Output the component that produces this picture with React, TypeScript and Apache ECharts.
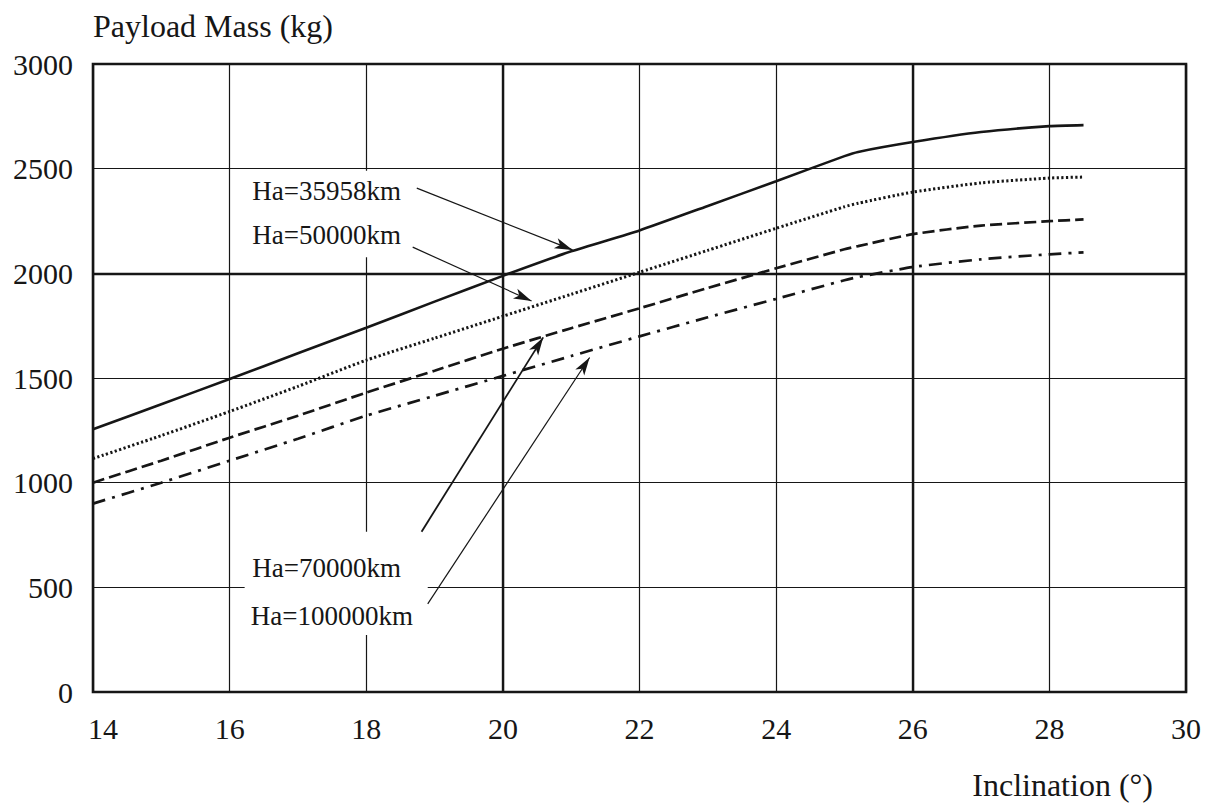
import React, { useEffect, useRef } from "react";
import * as echarts from "echarts";

// Inclination (deg)
const inclination = [14, 15, 16, 17, 18, 19, 20, 21, 22, 23, 24, 25, 25.2, 26, 27, 28, 28.5];
// Payload mass (kg) for each apogee altitude
const ha35958 = [1255, 1375, 1495, 1618, 1740, 1865, 1988, 2105, 2205, 2322, 2440, 2560, 2580, 2627, 2675, 2703, 2708];
const ha50000 = [1115, 1225, 1340, 1460, 1585, 1690, 1795, 1900, 2005, 2110, 2215, 2318, 2335, 2388, 2432, 2455, 2460];
const ha70000 = [1000, 1105, 1215, 1320, 1430, 1535, 1640, 1738, 1833, 1930, 2024, 2115, 2130, 2187, 2228, 2249, 2258];
const ha100000 = [900, 1000, 1105, 1210, 1320, 1415, 1510, 1605, 1699, 1790, 1878, 1967, 1982, 2030, 2067, 2091, 2100];

const seriesNames = ["Ha=35958km", "Ha=50000km", "Ha=70000km", "Ha=100000km"];
const xTicks = [14, 16, 18, 20, 22, 24, 26, 28, 30];
const yTicks = [0, 500, 1000, 1500, 2000, 2500, 3000];

// Annotation label anchors (data coords) and arrows
const labelPos = [
  [16.33, 2395],
  [16.33, 2182],
  [16.33, 590],
  [16.31, 364],
];
const arrowStart = [
  [18.74, 2407],
  [18.68, 2125],
  [18.81, 766],
  [18.9, 421],
];
const arrowEnd = [
  [21.02, 2112],
  [20.42, 1868],
  [20.59, 1694],
  [21.27, 1598],
];
const boxes = [
  [[16.15, 2490], [18.64, 2077]],
  [[16.22, 765], [18.9, 272]],
];

const FONT = "'Liberation Serif', 'Times New Roman', serif";
const INK = "#161616";

export default function App() {
  const ref = useRef<HTMLDivElement>(null);
  useEffect(() => {
    if (!ref.current) return;
    const chart = echarts.init(ref.current, undefined, { renderer: "svg" });
    const mk = (vals: number[]) => inclination.map((x, i) => [x, vals[i]]);
    const lineStyles: any[] = [
      { width: 2.6, type: "solid" },
      { width: 3, type: [2.2, 2.4] },
      { width: 2.7, type: [12, 5] },
      { width: 2.7, type: [13, 7, 3, 7] },
    ];
    const allVals = [ha35958, ha50000, ha70000, ha100000];
    const lineSeries = allVals.map((v, i) => ({
      type: "line",
      name: seriesNames[i],
      data: mk(v),
      showSymbol: false,
      symbol: "none",
      smooth: 0.2,
      z: 5,
      lineStyle: { color: INK, ...lineStyles[i] },
    }));
    const xName = {
      type: "text",
      right: 55,
      bottom: 4,
      style: { text: "Inclination (°)", font: "32px " + FONT, fill: INK },
    };
    chart.setOption({
      animation: false,
      backgroundColor: "#fff",
      textStyle: { fontFamily: FONT, color: INK },
      grid: {
        left: 93,
        right: 22,
        top: 64,
        bottom: 113,
        show: true,
        borderColor: INK,
        borderWidth: 2.6,
        containLabel: false,
        outerBoundsMode: "none",
      },
      xAxis: {
        type: "value",
        min: 14,
        max: 30,
        interval: 2,
        axisLine: { show: false },
        axisTick: { show: false },
        splitLine: { show: true, lineStyle: { color: INK, width: 1.2 } },
        axisLabel: {
          margin: 21,
          fontSize: 30,
          fontFamily: FONT,
          color: INK,
          formatter: (v: number) => (v === xTicks[0] ? "{a|" + v + "}" : String(v)),
          rich: { a: { fontSize: 30, fontFamily: FONT, color: INK, padding: [0, 0, 0, 20] } },
        },
      },
      yAxis: {
        type: "value",
        min: yTicks[0],
        max: yTicks[yTicks.length - 1],
        interval: 500,
        name: "Payload Mass (kg)",
        nameLocation: "end",
        nameGap: 22,
        nameTextStyle: { fontSize: 32, fontFamily: FONT, color: INK, align: "left" },
        axisLine: { show: false },
        axisTick: { show: false },
        splitLine: { show: true, lineStyle: { color: INK, width: 1.2 } },
        axisLabel: {
          margin: 20,
          fontSize: 30,
          fontFamily: FONT,
          color: INK,
          formatter: (v: number) => String(v),
        },
      },
      graphic: [xName],
      series: [
        {
          type: "line",
          data: [],
          symbol: "none",
          z: 3,
          markLine: {
            silent: true,
            symbol: ["none", "none"],
            label: { show: false },
            lineStyle: { color: INK, width: 2.4, type: "solid" },
            data: [{ xAxis: 20 }, { xAxis: 26 }, { yAxis: 2000 }],
          },
          markArea: {
            silent: true,
            itemStyle: { color: "#ffffff", opacity: 1 },
            label: { show: false },
            data: boxes.map((b) => [{ coord: b[0] }, { coord: b[1] }]),
          },
        },
        ...lineSeries,
        {
          type: "line",
          data: [],
          symbol: "none",
          z: 8,
          markLine: {
            silent: true,
            symbol: ["none", "arrow"],
            symbolSize: [8, 18],
            label: { show: false },
            lineStyle: { color: INK, width: 1.2, type: "solid" },
            data: arrowStart.map((s, i) => [
              { coord: s, lineStyle: { width: i === 2 ? 1.8 : 1.2 } },
              { coord: arrowEnd[i] },
            ]),
          },
        },
      ],
    });
    // Annotation texts placed through the chart's own coordinate conversion
    const texts = labelPos.map((p, i) => {
      const px = chart.convertToPixel({ gridIndex: 0 }, p) as number[];
      return {
        type: "text",
        x: px[0],
        y: px[1],
        z: 20,
        style: {
          text: seriesNames[i],
          font: "27px " + FONT,
          fill: INK,
          textAlign: "left",
          textVerticalAlign: "middle",
        },
      };
    });
    chart.setOption({ graphic: [xName, ...texts] });
    return () => chart.dispose();
  }, []);
  return (
    <div
      ref={ref}
      style={{ position: "fixed", left: 0, top: 0, width: 1208, height: 805, background: "#fff" }}
    />
  );
}
